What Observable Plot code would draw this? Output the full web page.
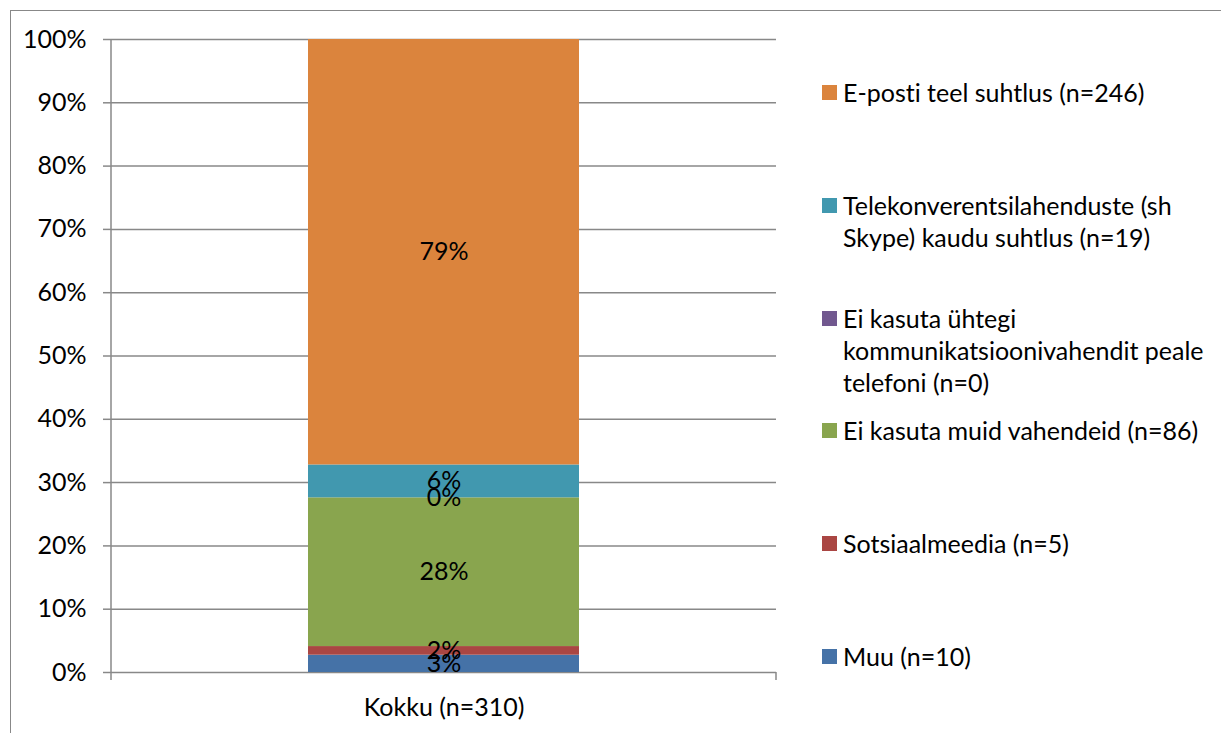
<!DOCTYPE html>
<html>
<head>
<meta charset="utf-8">
<script src="https://cdn.jsdelivr.net/npm/d3@7"></script>
<script src="https://cdn.jsdelivr.net/npm/@observablehq/plot@0.6"></script>
<style>
  html, body { margin: 0; padding: 0; background: #fff; }
  #wrap { position: relative; width: 1221px; height: 733px; overflow: hidden; font-family: Lato, "Open Sans", sans-serif; font-variant-ligatures: none; }
  #wrap svg text { font-variant-ligatures: none; }
  #border { position: absolute; left: 10px; top: 10px; width: 1400px; height: 900px; border: 1.5px solid #888; box-sizing: border-box; }
  #chart { position: absolute; left: 0; top: 0; }
  #legend { position: absolute; left: 0; top: 0; }
  .item { position: absolute; left: 822px; width: 392px; font-size: 25px; line-height: 32px; color: #000; }
  .sw { position: absolute; left: 0; top: 9px; width: 15px; height: 15px; }
  .lt { position: absolute; left: 21px; width: 375px; }
</style>
</head>
<body>
<div id="wrap">
  <div id="border"></div>
  <div id="chart"></div>
  <div id="legend"></div>
</div>
<script>
// Data (bottom to top of the stack)
const category = "Kokku (n=310)";
const seriesNames = [
  "Muu (n=10)",
  "Sotsiaalmeedia (n=5)",
  "Ei kasuta muid vahendeid (n=86)",
  "Ei kasuta ühtegi kommunikatsioonivahendit peale telefoni (n=0)",
  "Telekonverentsilahenduste (sh Skype) kaudu suhtlus (n=19)",
  "E-posti teel suhtlus (n=246)"
];
const counts = [10, 5, 86, 0, 19, 246];
const pctLabels = ["3%", "2%", "28%", "0%", "6%", "79%"];
const colors = ["#4572A7", "#AA4643", "#89A54E", "#71588F", "#4198AF", "#DB843D"];
const yTicks = [0, 0.1, 0.2, 0.3, 0.4, 0.5, 0.6, 0.7, 0.8, 0.9, 1];

const data = seriesNames.map((s, i) => ({cat: category, series: s, n: counts[i], label: pctLabels[i]}));

const W = 800, H = 733;
const gray = "#888";
const fs = 25;

// custom mark: left axis line and category boundary ticks
function axisFrame(index, scales, values, dims) {
  const g = d3.create("svg:g").attr("stroke", gray).attr("stroke-width", 1.5).attr("fill", "none");
  const x0 = dims.marginLeft, x1 = dims.width - dims.marginRight;
  const yTop = dims.marginTop, yBot = dims.height - dims.marginBottom;
  g.append("line").attr("x1", x0).attr("x2", x0).attr("y1", yTop).attr("y2", yBot + 8);
  g.append("line").attr("x1", x1).attr("x2", x1).attr("y1", yBot).attr("y2", yBot + 8);
  return g.node();
}

const plot = Plot.plot({
  width: W,
  height: H,
  marginLeft: 111,
  marginRight: 24,
  marginTop: 39,
  marginBottom: 61,
  style: {fontFamily: "Lato, 'Open Sans', sans-serif", fontSize: fs + "px", color: "#000", background: "transparent"},
  x: {domain: [category], padding: 0.42, label: null},
  y: {domain: [0, 1], label: null},
  color: {domain: seriesNames, range: colors},
  marks: [
    Plot.gridY(yTicks, {stroke: gray, strokeOpacity: 1, strokeWidth: 1.5}),
    Plot.axisY(yTicks, {tickFormat: d3.format(".0%"), tickSize: 8, tickPadding: 17, stroke: gray, strokeWidth: 1.5, fontSize: fs, fill: "#000", label: null}),
    Plot.axisX({tickSize: 0, tickPadding: 26, fontSize: fs, fill: "#000", label: null}),
    Plot.barY(data, Plot.stackY({x: "cat", y: "n", fill: "series", offset: "normalize"})),
    Plot.text(data, Plot.stackY({x: "cat", y: "n", text: "label", offset: "normalize", fill: "#000", fontSize: fs})),
    axisFrame
  ]
});
document.getElementById("chart").appendChild(plot);

// Legend (top to bottom = reverse of stack)
const legend = d3.select("#legend");
const order = d3.range(seriesNames.length).reverse();
order.forEach((si, k) => {
  const item = legend.append("div").attr("class", "item").style("top", (76 + k * 112.8) + "px");
  item.append("div").attr("class", "sw").style("background", colors[si]);
  item.append("div").attr("class", "lt").text(seriesNames[si]);
});
</script>
</body>
</html>
